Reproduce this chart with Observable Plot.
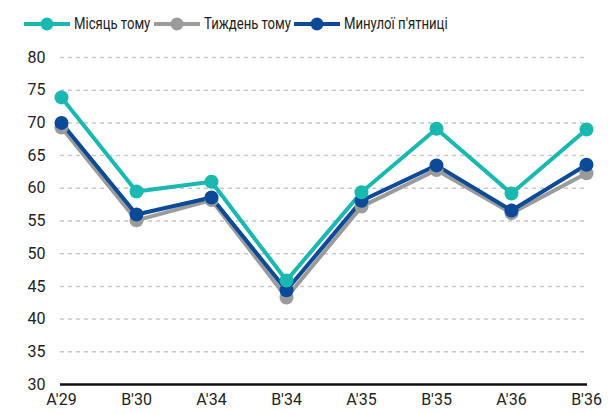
<!DOCTYPE html>
<html>
<head>
<meta charset="utf-8">
<script src="https://cdn.jsdelivr.net/npm/d3@7"></script>
<script src="https://cdn.jsdelivr.net/npm/@observablehq/plot@0.6"></script>
<style>
  body { margin: 0; background: #fff; font-family: "Liberation Sans Narrow", "Roboto", sans-serif; }
  #legend { position: relative; height: 44px; font-size: 16px; color: #222; }
  .sw { position: absolute; top: 16px; }
  .lab { position: absolute; top: 14px; white-space: nowrap; transform: scaleX(0.82); transform-origin: left center; line-height: 20px; }
</style>
</head>
<body>
<div id="legend"></div>
<div id="chart"></div>
<script>
const categories = ["A'29", "B'30", "A'34", "B'34", "A'35", "B'35", "A'36", "B'36"];
const seriesNames = ["Тиждень тому", "Минулої п'ятниці", "Місяць тому"];
const monthAgo = [73.9, 59.5, 61.0, 45.9, 59.4, 69.1, 59.2, 69.0];
const weekAgo = [69.3, 55.1, 58.2, 43.3, 57.2, 62.8, 56.2, 62.3];
const lastFriday = [70.0, 56.0, 58.6, 44.4, 58.1, 63.5, 56.6, 63.6];
const yTicks = [30, 35, 40, 45, 50, 55, 60, 65, 70, 75, 80];
const colors = {"Місяць тому": "#19b8b0", "Тиждень тому": "#9b9b9b", "Минулої п'ятниці": "#0b4a98"};
const legendOrder = ["Місяць тому", "Тиждень тому", "Минулої п'ятниці"];

const valuesBy = {"Місяць тому": monthAgo, "Тиждень тому": weekAgo, "Минулої п'ятниці": lastFriday};
const data = seriesNames.flatMap(s => categories.map((c, i) => ({series: s, cat: c, value: valuesBy[s][i]})));

// legend (swatch left edges and label left edges as in the reference layout)
const legend = document.getElementById("legend");
const swX = [23, 153, 293];
legendOrder.forEach((s, i) => {
  const sw = document.createElement("div");
  sw.className = "sw";
  sw.style.left = swX[i] + "px";
  sw.innerHTML = `<svg width="48" height="16"><line x1="1" x2="47" y1="8" y2="8" stroke="${colors[s]}" stroke-width="4"/><circle cx="24" cy="8" r="6.5" fill="${colors[s]}"/></svg>`;
  legend.appendChild(sw);
  const lab = document.createElement("span");
  lab.className = "lab";
  lab.style.left = (swX[i] + 51) + "px";
  lab.textContent = s;
  legend.appendChild(lab);
});

const chart = Plot.plot({
  width: 612,
  height: 370,
  marginTop: 13,
  marginLeft: 60,
  marginRight: 25,
  marginBottom: 30,
  style: {fontFamily: "'Liberation Sans Narrow', Roboto, sans-serif", fontSize: "16px", color: "#222"},
  x: {type: "point", domain: categories, padding: 0, label: null},
  y: {domain: [30, 80], label: null},
  marks: [
    Plot.gridY(yTicks.filter(d => d !== 30), {stroke: "#c8c8c8", strokeOpacity: 1, strokeWidth: 1.5, strokeDasharray: "4,4"}),
    Plot.axisY(yTicks, {tickSize: 0, tickPadding: 15, label: null, fontSize: 16}),
    Plot.axisX(categories, {tickSize: 0, tickPadding: 9, label: null, fontSize: 16}),
    Plot.ruleY([30], {stroke: "#111", strokeWidth: 2.5}),
    Plot.line(data, {x: "cat", y: "value", z: "series", stroke: d => colors[d.series], strokeWidth: 4}),
    Plot.dot(data, {x: "cat", y: "value", fill: d => colors[d.series], r: 7})
  ]
});
document.getElementById("chart").appendChild(chart);
</script>
</body>
</html>
